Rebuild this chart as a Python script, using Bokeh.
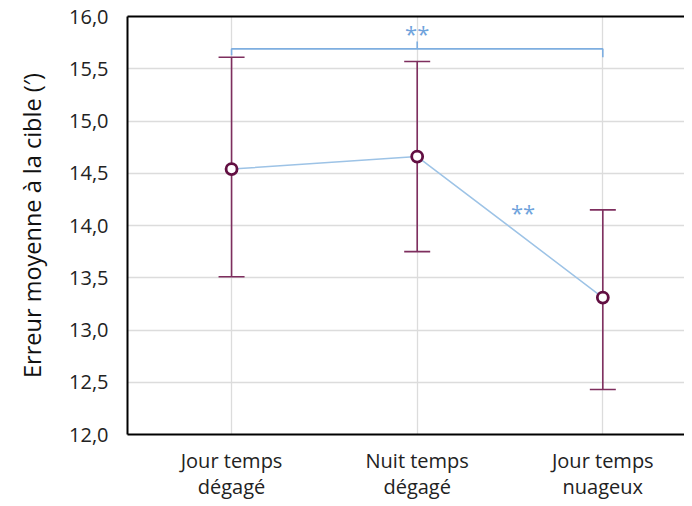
from bokeh.plotting import figure
from bokeh.models import ColumnDataSource, Whisker, TeeHead, FixedTicker, LinearAxis, Range1d
from bokeh.core.properties import value
from bokeh.embed import file_html
from bokeh.resources import INLINE

categories = ["Jour temps\ndégagé", "Nuit temps\ndégagé", "Jour temps\nnuageux"]
means = [14.54, 14.66, 13.31]
upper = [15.61, 15.57, 14.15]
lower = [13.51, 13.75, 12.43]
y_ticks = [12.0, 12.5, 13.0, 13.5, 14.0, 14.5, 15.0, 15.5, 16.0]
y_tick_labels = ["12,0", "12,5", "13,0", "13,5", "14,0", "14,5", "15,0", "15,5", "16,0"]
bracket_level = 15.69
sig_label = "**"

FONT = "Open Sans"
xs = list(range(len(categories)))

p = figure(width=684, height=502, output_backend="svg", toolbar_location=None,
           x_range=Range1d(-0.5606, 2.44), y_range=Range1d(12.0, 16.0),
           min_border_left=127, min_border_right=0, min_border_top=16, min_border_bottom=63)
p.outline_line_color = None
p.background_fill_color = "white"
p.border_fill_color = "white"

# axes
p.yaxis.ticker = FixedTicker(ticks=y_ticks)
p.yaxis.major_label_overrides = {t: l for t, l in zip(y_ticks, y_tick_labels)}
p.yaxis.axis_label = "Erreur moyenne à la cible (′)"
p.yaxis.axis_label_text_font = FONT
p.yaxis.axis_label_text_font_style = "normal"
p.yaxis.axis_label_text_font_size = "23.5px"
p.yaxis.axis_label_text_color = "#111111"
p.yaxis.axis_label_standoff = 18
p.yaxis.major_label_text_font = FONT
p.yaxis.major_label_text_font_size = "20px"
p.yaxis.major_label_text_color = "#222222"
p.yaxis.major_label_standoff = 13
p.yaxis.major_tick_line_color = None
p.yaxis.minor_tick_line_color = None
p.yaxis.axis_line_color = "black"
p.yaxis.axis_line_width = 2

p.xaxis.ticker = FixedTicker(ticks=xs)
p.xaxis.major_label_overrides = {i: c for i, c in zip(xs, categories)}
p.xaxis.major_label_text_font = FONT
p.xaxis.major_label_text_font_size = "20px"
p.xaxis.major_label_text_color = "#222222"
p.xaxis.major_label_text_line_height = 0.98
p.xaxis.major_label_standoff = 6
p.xaxis.major_tick_line_color = None
p.xaxis.minor_tick_line_color = None
p.xaxis.axis_line_color = "black"
p.xaxis.axis_line_width = 2

top_axis = LinearAxis(ticker=FixedTicker(ticks=[]), major_label_text_font_size="0px",
                      major_tick_line_color=None, minor_tick_line_color=None,
                      major_label_standoff=0,
                      axis_line_color="black", axis_line_width=2)
p.add_layout(top_axis, "above")

p.xgrid.ticker = FixedTicker(ticks=xs)
p.xgrid.grid_line_color = "#dcdcdc"
p.xgrid.grid_line_width = 1.3
p.ygrid.grid_line_color = "#dcdcdc"
p.ygrid.grid_line_width = 1.3

src = ColumnDataSource(dict(x=xs, mean=means, upper=upper, lower=lower))

# connecting line
p.line("x", "mean", source=src, line_color="#9DC3E6", line_width=1.5)

# error bars
wcol = "#7E2E5E"
w = Whisker(base="x", upper="upper", lower="lower", source=src,
            line_color=wcol, line_width=1.6,
            upper_head=TeeHead(size=26, line_color=wcol, line_width=1.6),
            lower_head=TeeHead(size=26, line_color=wcol, line_width=1.6))
p.add_layout(w)

# markers
p.scatter("x", "mean", source=src, size=11, marker="circle", fill_color="white",
          line_color="#620F42", line_width=2.8)

# significance bracket across all conditions
bcol = "#7EAEE0"
p.line([xs[0], xs[0], xs[2], xs[2]],
       [bracket_level - 0.06, bracket_level, bracket_level, bracket_level - 0.08],
       line_color=bcol, line_width=1.6)
p.line([xs[1], xs[1]], [bracket_level, bracket_level + 0.07], line_color=bcol, line_width=1.6)

p.text(x=[xs[1], (xs[1] + xs[2]) / 2 + 0.07], y=[bracket_level + 0.01, means[2] + 0.68],
       text=[sig_label, sig_label], text_font=value(FONT), text_font_size="22px",
       text_color="#6FA3DC", text_align="center", text_baseline="bottom")

open("out.html", "w").write(file_html(p, INLINE))
